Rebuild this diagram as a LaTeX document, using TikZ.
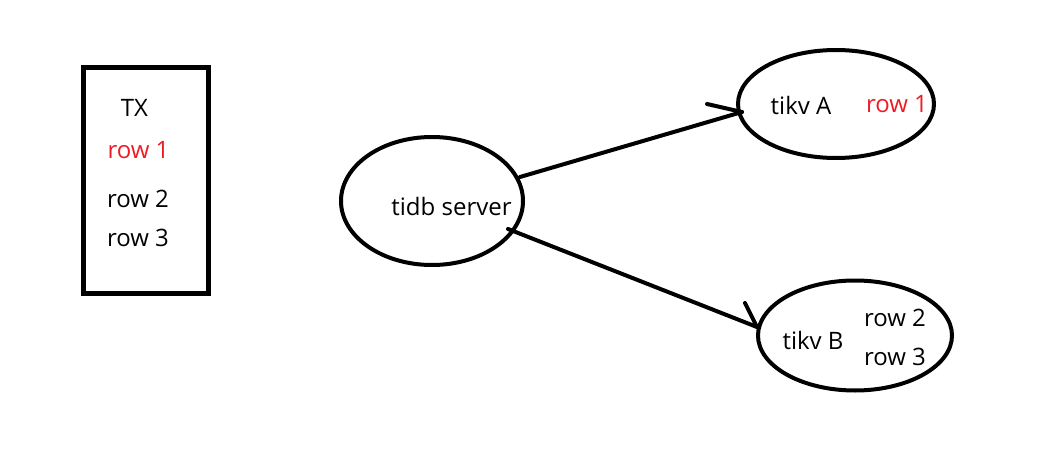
\documentclass[tikz,border=0pt]{standalone}
\usepackage{fontspec}
\setmainfont{Open Sans}
\usetikzlibrary{shapes.geometric}
\definecolor{paintred}{RGB}{237,28,36}
\tikzset{
  lbl/.style={anchor=base, inner sep=0pt, font=\fontsize{24}{28}\selectfont, text=black},
  redlbl/.style={lbl, text=paintred},
  oval/.style={draw=black, line width=4pt, ellipse, inner sep=0pt},
  conn/.style={draw=black, line width=4pt, line cap=round}
}
\begin{document}
\begin{tikzpicture}[x=1pt,y=-1pt]
\useasboundingbox (0,0) rectangle (1037,455);
% transaction box
\node[draw=black, line width=5pt, minimum width=125pt, minimum height=226pt, inner sep=0pt] (tx) at (146,180) {};
\node[lbl] (txl) at (134.5,116.7) {TX};
\node[redlbl] (r1) at (138.5,158) {row 1};
\node[lbl] (r2) at (138,207.7) {row 2};
\node[lbl] (r3) at (138,246.7) {row 3};
% ellipses
\node[oval, minimum width=182pt, minimum height=128pt] (tidb) at (432,201) {};
\node[oval, minimum width=196pt, minimum height=108pt] (tikvA) at (836,104) {};
\node[oval, minimum width=194pt, minimum height=110pt] (tikvB) at (855,335.5) {};
\node[lbl] (tidbl) at (451.5,215.7) {tidb server};
\node[lbl] (tikval) at (801,114) {tikv A};
\node[redlbl] (ar1) at (897,112.7) {row 1};
\node[lbl] (tikvbl) at (813,349.3) {tikv B};
\node[lbl] (br2) at (895,326.7) {row 2};
\node[lbl] (br3) at (895,365) {row 3};
% connectors
\coordinate (a1s) at (520,177);
\coordinate (a1e) at (742,112);
\coordinate (a1b) at (707,104);
\coordinate (a2s) at (508,229);
\coordinate (a2e) at (757,327);
\coordinate (a2b) at (745,303);
\draw[conn] (a1s) -- (a1e);
\draw[conn] (a1b) -- (a1e);
\draw[conn] (a2s) -- (a2e);
\draw[conn] (a2b) -- (a2e);
\end{tikzpicture}
\end{document}
